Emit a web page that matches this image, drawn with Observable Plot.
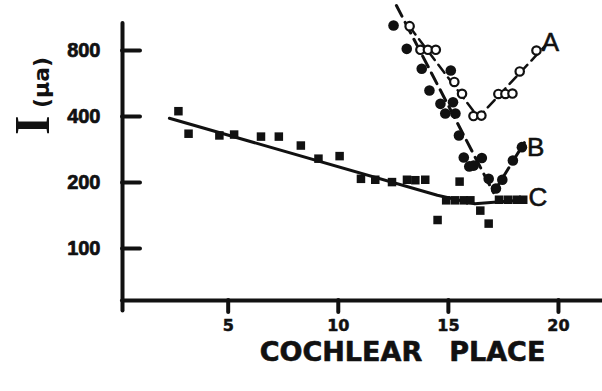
<!DOCTYPE html>
<html>
<head>
<meta charset="utf-8">
<script src="https://cdn.jsdelivr.net/npm/d3@7"></script>
<script src="https://cdn.jsdelivr.net/npm/@observablehq/plot@0.6"></script>
<style>
  html, body { margin: 0; padding: 0; background: #fff; }
  #chart svg { display: block; }
</style>
</head>
<body>
<div id="chart"></div>
<script>
// Threshold current I (μa, log scale) against cochlear place, three curves A, B, C.
const xTicks = [5, 10, 15, 20];
const yTicks = [100, 200, 400, 800];
const xDomain = [0.2, 22];
const yDomain = [58, 1062];
const yAxisSpan = [52, 1062];

// Curve A: open circles and its V-shaped fit
const aPlace   = [13.24, 13.73, 14.07, 14.43, 15.27, 15.62, 16.14, 16.50, 17.27, 17.59, 17.91, 18.24, 19.00];
const aCurrent = [1033, 806, 806, 806, 575, 508, 402, 404, 507, 507, 509, 642, 800];
const aFitPlace   = [13.23, 16.36, 19.45];
const aFitCurrent = [1029, 396, 852];

// Curve B: filled circles and its V-shaped fit
const bPlace   = [12.51, 13.11, 13.79, 14.14, 14.64, 15.21, 14.86, 15.32, 15.11, 15.48, 15.70, 15.95, 16.15, 16.52, 16.83, 17.16, 17.45, 17.93, 18.34];
const bCurrent = [1040, 814, 660, 526, 457, 465, 413, 413, 648, 328, 260, 237, 239, 259, 208, 188, 206, 252, 290];
const bFitPlace   = [12.64, 17.05, 18.45];
const bFitCurrent = [1283, 180, 304];

// Curve C: filled squares and its fit
const cPlace   = [2.74, 3.20, 4.60, 5.27, 6.49, 7.30, 8.30, 9.10, 10.06, 11.03, 11.68, 12.44, 13.12, 13.50, 13.95, 14.51, 14.90, 15.30, 15.70, 16.00, 15.51, 16.45, 16.83, 17.30, 17.70, 18.10, 18.40];
const cCurrent = [423, 334, 328, 331, 324, 324, 295, 257, 264, 208, 206, 201, 206, 205, 206, 135, 166, 166, 166, 166, 202, 149, 130, 167, 167, 167, 167];
const cFitPlace   = [2.33, 14.5, 16.2, 18.5];
const cFitCurrent = [393, 175, 160, 167];

// Curve labels
const curveNames   = ["A", "B", "C"];
const curveLabelX  = [19.64, 18.97, 19.06];
const curveLabelY  = [870, 289, 171];

const pts = (xs, ys) => xs.map((x, i) => ({x, y: ys[i]}));
const A = pts(aPlace, aCurrent), aFit = pts(aFitPlace, aFitCurrent);
const B = pts(bPlace, bCurrent), bFit = pts(bFitPlace, bFitCurrent);
const C = pts(cPlace, cCurrent), cFit = pts(cFitPlace, cFitCurrent);
const labels = curveNames.map((name, i) => ({name, x: curveLabelX[i], y: curveLabelY[i]}));

const ink = "#111";
// heavy lettering: bold glyphs with a thin outline of the same ink
const heavy = {fill: ink, stroke: ink, strokeWidth: 0.7};

const chart = Plot.plot({
  width: 602,
  height: 391,
  marginLeft: 122,
  marginRight: 0,
  marginTop: 23,
  marginBottom: 91,
  x: {domain: xDomain, axis: null},
  y: {type: "log", domain: yDomain, axis: null},
  style: {background: "#fff", color: ink, fontFamily: "DejaVu Sans, sans-serif"},
  marks: [
    // axis lines and ticks
    Plot.ruleY([yDomain[0]], {y: d => d, stroke: ink, strokeWidth: 4, strokeLinecap: "round"}),
    Plot.ruleX([xDomain[0]], {x: d => d, y1: yAxisSpan[0], y2: yAxisSpan[1], stroke: ink, strokeWidth: 4, strokeLinecap: "round"}),
    Plot.tickY(yTicks, {y: d => d, insetRight: 462, stroke: ink, strokeWidth: 4, strokeLinecap: "round"}),
    Plot.tickX(xTicks, {x: d => d, insetTop: 277, insetBottom: -12, stroke: ink, strokeWidth: 4, strokeLinecap: "round"}),

    // tick labels
    Plot.text(yTicks, {y: d => d, text: d => String(d), frameAnchor: "left", dx: -22, textAnchor: "end",
      fontSize: 20, fontWeight: "bold", fontFamily: "Liberation Sans, sans-serif", ...heavy}),
    Plot.text(xTicks, {x: d => d, text: d => String(d), frameAnchor: "bottom", dy: 30,
      fontSize: 16, fontWeight: "bold", ...heavy, strokeWidth: 0.5}),

    // axis titles
    Plot.text(["COCHLEAR\u2003PLACE"], {frameAnchor: "bottom", dx: 40, dy: 60,
      fontSize: 27, fontWeight: "bold", ...heavy, strokeWidth: 0.6}),
    Plot.text(["I"], {frameAnchor: "left", dx: -90, dy: -27, rotate: -90,
      fontSize: 50, fontWeight: "bold", fontFamily: "Liberation Serif, serif", fill: ink}),
    Plot.text(["(μa)"], {frameAnchor: "left", dx: -81, dy: -54, rotate: -90,
      fontSize: 22, fontWeight: "bold", fill: ink}),

    // fitted lines
    Plot.line(cFit, {x: "x", y: "y", stroke: ink, strokeWidth: 3}),
    Plot.line(bFit, {x: "x", y: "y", stroke: ink, strokeWidth: 3, strokeDasharray: "12,7"}),
    Plot.line(aFit, {x: "x", y: "y", stroke: ink, strokeWidth: 2.5, strokeDasharray: "10,6"}),

    // data points
    Plot.dot(C, {x: "x", y: "y", symbol: "square", r: 4.8, fill: ink}),
    Plot.dot(B, {x: "x", y: "y", r: 5.3, fill: ink}),
    Plot.dot(A, {x: "x", y: "y", r: 4.2, fill: "#fff", stroke: ink, strokeWidth: 2.2}),

    // curve labels
    Plot.text(labels, {x: "x", y: "y", text: "name", fontSize: 26,
      fontFamily: "Liberation Sans, sans-serif", ...heavy, strokeWidth: 0.6})
  ]
});

document.getElementById("chart").appendChild(chart);
</script>
</body>
</html>
